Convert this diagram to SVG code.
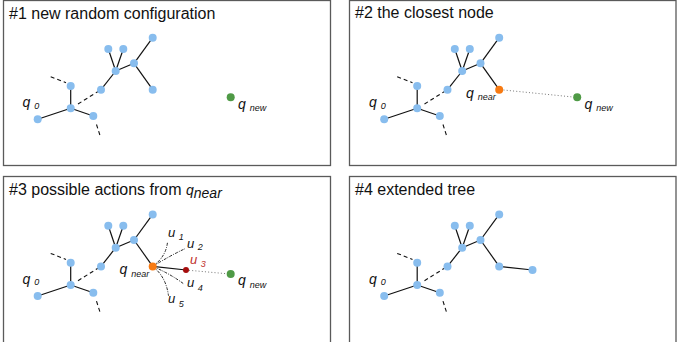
<svg xmlns="http://www.w3.org/2000/svg" width="685" height="342" viewBox="0 0 685 342">
<defs>
<style>
.frame{fill:#fff;stroke:#5a5a5a;stroke-width:1.3}
.title{font-family:"Liberation Sans",Arial,sans-serif;font-size:16px;fill:#111}
.lbl{font-family:"Liberation Sans",Arial,sans-serif;font-style:italic;font-size:14px;fill:#111}
.sub{font-size:9px}
.ul{font-family:"Liberation Sans",Arial,sans-serif;font-style:italic;font-size:13px;fill:#111}
.usub{font-size:9px}
.edge{stroke:#111;stroke-width:1.2;fill:none}
.dash{stroke:#111;stroke-width:1.1;stroke-dasharray:4 3;fill:none}
.dot{stroke:#777;stroke-width:1;stroke-dasharray:1 2.2;fill:none}
.act{stroke:#111;stroke-width:0.9;stroke-dasharray:3 1.2 1 1.2;fill:none}
.n{fill:#88bdee}
.near{fill:#f77a12}
.new{fill:#4f9a46}
.u3{fill:#a50d0d}
</style>
</defs>

<rect class="frame" x="3.5" y="0.5" width="327" height="165"/>
<rect class="frame" x="349.5" y="0.5" width="326.5" height="165"/>
<rect class="frame" x="3.5" y="176.5" width="327" height="170"/>
<rect class="frame" x="349.5" y="176.5" width="326.5" height="170"/>

<text class="title" x="9" y="18.5">#1 new random configuration</text>
<text class="title" x="355" y="18">#2 the closest node</text>
<text class="title" x="9" y="194.5">#3 possible actions from <tspan class="lbl" font-size="16">q</tspan><tspan class="lbl" font-size="10" dy="3">near</tspan></text>
<text class="title" x="355" y="194.5">#4 extended tree</text>

<!-- Panel 1 -->
<g id="panel1">
<g id="p1-connectors">
<line class="edge" x1="152.7" y1="37.7" x2="134" y2="63.3"/>
<line class="edge" x1="108.3" y1="49" x2="115.7" y2="71"/>
<line class="edge" x1="123.3" y1="49" x2="115.7" y2="71"/>
<line class="edge" x1="134" y1="63.3" x2="115.7" y2="71"/>
<line class="edge" x1="134" y1="63.3" x2="152.7" y2="89.7"/>
<line class="edge" x1="115.7" y1="71" x2="101" y2="89.7"/>
<line class="edge" x1="70.7" y1="86" x2="70.7" y2="108.3"/>
<line class="edge" x1="70.7" y1="108.3" x2="37.7" y2="119.3"/>
<line class="edge" x1="70.7" y1="108.3" x2="93.3" y2="116"/>
<line class="dash" x1="78" y1="104" x2="98" y2="91.5"/>
<line class="dash" x1="50.7" y1="76.7" x2="66" y2="82.7"/>
<line class="dash" x1="96.5" y1="124.5" x2="100.5" y2="137"/>
</g>
<g id="p1-nA"><circle class="n" cx="152.7" cy="37.7" r="4"/></g>
<g id="p1-nB"><circle class="n" cx="108.3" cy="49" r="4"/></g>
<g id="p1-nC"><circle class="n" cx="123.3" cy="49" r="4"/></g>
<g id="p1-nD"><circle class="n" cx="134" cy="63.3" r="4"/></g>
<g id="p1-nE"><circle class="n" cx="115.7" cy="71" r="4"/></g>
<g id="p1-nF"><circle class="n" cx="101" cy="89.7" r="4"/></g>
<g id="p1-nG"><circle class="n" cx="152.7" cy="89.7" r="4"/></g>
<g id="p1-nH"><circle class="n" cx="70.7" cy="86" r="4"/></g>
<g id="p1-nI"><circle class="n" cx="70.7" cy="108.3" r="4"/></g>
<g id="p1-q0"><circle class="n" cx="37.7" cy="119.3" r="4"/><text class="lbl" x="22.5" y="107">q <tspan class="sub" dy="1.5">0</tspan></text></g>
<g id="p1-nK"><circle class="n" cx="93.3" cy="116" r="4"/></g>
<g id="p1-qnew"><circle class="new" cx="230.7" cy="97.3" r="4"/><text class="lbl" x="238" y="108.5">q <tspan class="sub" dy="2.5">new</tspan></text></g>
</g>

<!-- Panel 2 -->
<g id="panel2" transform="translate(346.5,0)">
<g id="p2-connectors">
<line class="edge" x1="152.7" y1="37.7" x2="134" y2="63.3"/>
<line class="edge" x1="108.3" y1="49" x2="115.7" y2="71"/>
<line class="edge" x1="123.3" y1="49" x2="115.7" y2="71"/>
<line class="edge" x1="134" y1="63.3" x2="115.7" y2="71"/>
<line class="edge" x1="134" y1="63.3" x2="152.7" y2="89.7"/>
<line class="edge" x1="115.7" y1="71" x2="101" y2="89.7"/>
<line class="edge" x1="70.7" y1="86" x2="70.7" y2="108.3"/>
<line class="edge" x1="70.7" y1="108.3" x2="37.7" y2="119.3"/>
<line class="edge" x1="70.7" y1="108.3" x2="93.3" y2="116"/>
<line class="dash" x1="78" y1="104" x2="98" y2="91.5"/>
<line class="dash" x1="50.7" y1="76.7" x2="66" y2="82.7"/>
<line class="dash" x1="96.5" y1="124.5" x2="100.5" y2="137"/>
<line class="dot" x1="157" y1="90" x2="226.5" y2="97"/>
</g>
<g id="p2-nA"><circle class="n" cx="152.7" cy="37.7" r="4"/></g>
<g id="p2-nB"><circle class="n" cx="108.3" cy="49" r="4"/></g>
<g id="p2-nC"><circle class="n" cx="123.3" cy="49" r="4"/></g>
<g id="p2-nD"><circle class="n" cx="134" cy="63.3" r="4"/></g>
<g id="p2-nE"><circle class="n" cx="115.7" cy="71" r="4"/></g>
<g id="p2-nF"><circle class="n" cx="101" cy="89.7" r="4"/></g>
<g id="p2-qnear"><circle class="near" cx="152.7" cy="89.7" r="4"/><text class="lbl" x="119.5" y="97.5">q <tspan class="sub" dy="2.5">near</tspan></text></g>
<g id="p2-nH"><circle class="n" cx="70.7" cy="86" r="4"/></g>
<g id="p2-nI"><circle class="n" cx="70.7" cy="108.3" r="4"/></g>
<g id="p2-q0"><circle class="n" cx="37.7" cy="119.3" r="4"/><text class="lbl" x="22.5" y="107">q <tspan class="sub" dy="1.5">0</tspan></text></g>
<g id="p2-nK"><circle class="n" cx="93.3" cy="116" r="4"/></g>
<g id="p2-qnew"><circle class="new" cx="230.7" cy="97.3" r="4"/><text class="lbl" x="238" y="108.5">q <tspan class="sub" dy="2.5">new</tspan></text></g>
</g>

<!-- Panel 3 -->
<g id="panel3" transform="translate(0,176.7)">
<g id="p3-connectors">
<line class="edge" x1="152.7" y1="37.7" x2="134" y2="63.3"/>
<line class="edge" x1="108.3" y1="49" x2="115.7" y2="71"/>
<line class="edge" x1="123.3" y1="49" x2="115.7" y2="71"/>
<line class="edge" x1="134" y1="63.3" x2="115.7" y2="71"/>
<line class="edge" x1="134" y1="63.3" x2="152.7" y2="89.7"/>
<line class="edge" x1="115.7" y1="71" x2="101" y2="89.7"/>
<line class="edge" x1="70.7" y1="86" x2="70.7" y2="108.3"/>
<line class="edge" x1="70.7" y1="108.3" x2="37.7" y2="119.3"/>
<line class="edge" x1="70.7" y1="108.3" x2="93.3" y2="116"/>
<line class="dash" x1="78" y1="104" x2="98" y2="91.5"/>
<line class="dash" x1="50.7" y1="76.7" x2="66" y2="82.7"/>
<line class="dash" x1="96.5" y1="124.5" x2="100.5" y2="137"/>
<path class="act" d="M152.7,89.7 Q166,80 167.5,65.5"/>
<path class="act" d="M152.7,89.7 Q170,79 185,72"/>
<path class="act" d="M152.7,89.7 Q170,97 183.5,107"/>
<path class="act" d="M152.7,89.7 Q166,100 168.5,119"/>
<line class="edge" x1="152.7" y1="89.7" x2="186" y2="93.3"/>
<line class="dot" x1="189" y1="93.6" x2="226.5" y2="97"/>
</g>
<g id="p3-nA"><circle class="n" cx="152.7" cy="37.7" r="4"/></g>
<g id="p3-nB"><circle class="n" cx="108.3" cy="49" r="4"/></g>
<g id="p3-nC"><circle class="n" cx="123.3" cy="49" r="4"/></g>
<g id="p3-nD"><circle class="n" cx="134" cy="63.3" r="4"/></g>
<g id="p3-nE"><circle class="n" cx="115.7" cy="71" r="4"/></g>
<g id="p3-nF"><circle class="n" cx="101" cy="89.7" r="4"/></g>
<g id="p3-qnear"><circle class="near" cx="152.7" cy="89.7" r="4"/><text class="lbl" x="119.5" y="97.5">q <tspan class="sub" dy="2.5">near</tspan></text></g>
<g id="p3-nH"><circle class="n" cx="70.7" cy="86" r="4"/></g>
<g id="p3-nI"><circle class="n" cx="70.7" cy="108.3" r="4"/></g>
<g id="p3-q0"><circle class="n" cx="37.7" cy="119.3" r="4"/><text class="lbl" x="22.5" y="107">q <tspan class="sub" dy="1.5">0</tspan></text></g>
<g id="p3-nK"><circle class="n" cx="93.3" cy="116" r="4"/></g>
<g id="p3-u3"><circle class="u3" cx="186" cy="93.3" r="3"/></g>
<g id="p3-qnew"><circle class="new" cx="230.7" cy="97.3" r="4"/><text class="lbl" x="238" y="108.5">q <tspan class="sub" dy="2.5">new</tspan></text></g>
<g id="p3-ulabels">
<text class="ul" x="168" y="60.5">u <tspan class="usub" dy="3">1</tspan></text>
<text class="ul" x="187" y="71">u <tspan class="usub" dy="2">2</tspan></text>
<text class="ul" x="190" y="87.5" style="fill:#c0302a">u <tspan class="usub" dy="2.5">3</tspan></text>
<text class="ul" x="187" y="110.5">u <tspan class="usub" dy="4">4</tspan></text>
<text class="ul" x="168" y="126">u <tspan class="usub" dy="4">5</tspan></text>
</g>
</g>

<!-- Panel 4 -->
<g id="panel4" transform="translate(346.5,176.7)">
<g id="p4-connectors">
<line class="edge" x1="152.7" y1="37.7" x2="134" y2="63.3"/>
<line class="edge" x1="108.3" y1="49" x2="115.7" y2="71"/>
<line class="edge" x1="123.3" y1="49" x2="115.7" y2="71"/>
<line class="edge" x1="134" y1="63.3" x2="115.7" y2="71"/>
<line class="edge" x1="134" y1="63.3" x2="152.7" y2="89.7"/>
<line class="edge" x1="115.7" y1="71" x2="101" y2="89.7"/>
<line class="edge" x1="70.7" y1="86" x2="70.7" y2="108.3"/>
<line class="edge" x1="70.7" y1="108.3" x2="37.7" y2="119.3"/>
<line class="edge" x1="70.7" y1="108.3" x2="93.3" y2="116"/>
<line class="dash" x1="78" y1="104" x2="98" y2="91.5"/>
<line class="dash" x1="50.7" y1="76.7" x2="66" y2="82.7"/>
<line class="dash" x1="96.5" y1="124.5" x2="100.5" y2="137"/>
<line class="edge" x1="152.7" y1="89.7" x2="186" y2="93.3"/>
</g>
<g id="p4-nA"><circle class="n" cx="152.7" cy="37.7" r="4"/></g>
<g id="p4-nB"><circle class="n" cx="108.3" cy="49" r="4"/></g>
<g id="p4-nC"><circle class="n" cx="123.3" cy="49" r="4"/></g>
<g id="p4-nD"><circle class="n" cx="134" cy="63.3" r="4"/></g>
<g id="p4-nE"><circle class="n" cx="115.7" cy="71" r="4"/></g>
<g id="p4-nF"><circle class="n" cx="101" cy="89.7" r="4"/></g>
<g id="p4-nG"><circle class="n" cx="152.7" cy="89.7" r="4"/></g>
<g id="p4-nH"><circle class="n" cx="70.7" cy="86" r="4"/></g>
<g id="p4-nI"><circle class="n" cx="70.7" cy="108.3" r="4"/></g>
<g id="p4-q0"><circle class="n" cx="37.7" cy="119.3" r="4"/><text class="lbl" x="22.5" y="107">q <tspan class="sub" dy="1.5">0</tspan></text></g>
<g id="p4-nK"><circle class="n" cx="93.3" cy="116" r="4"/></g>
<g id="p4-nNew"><circle class="n" cx="186" cy="93.3" r="4"/></g>
</g>
</svg>
